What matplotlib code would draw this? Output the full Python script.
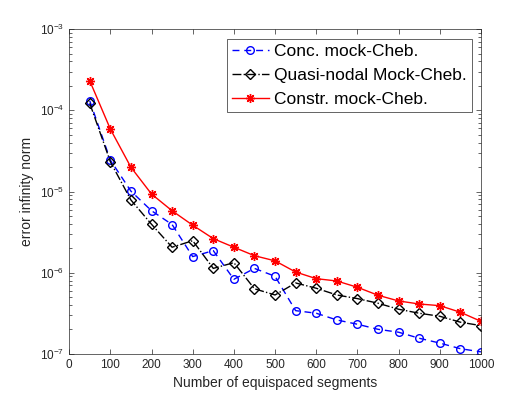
import numpy as np
import matplotlib
matplotlib.use('Agg')
from matplotlib import pyplot as plt
from matplotlib.ticker import LogLocator, NullFormatter, MultipleLocator

plt.rcParams['font.family'] = ['Liberation Sans', 'DejaVu Sans']

segments = np.arange(50, 1001, 50)

conc = [1.31e-4, 2.44e-5, 1.01e-5, 5.80e-6, 3.92e-6, 1.58e-6, 1.87e-6, 8.30e-7, 1.13e-6, 9.04e-7,
        3.41e-7, 3.17e-7, 2.62e-7, 2.32e-7, 2.01e-7, 1.85e-7, 1.56e-7, 1.36e-7, 1.16e-7, 1.06e-7]
quasi = [1.22e-4, 2.33e-5, 7.86e-6, 3.95e-6, 2.06e-6, 2.48e-6, 1.13e-6, 1.33e-6, 6.34e-7, 5.32e-7,
         7.48e-7, 6.44e-7, 5.32e-7, 4.80e-7, 4.21e-7, 3.55e-7, 3.17e-7, 2.91e-7, 2.46e-7, 2.23e-7]
constr = [2.31e-4, 5.88e-5, 1.99e-5, 9.31e-6, 5.79e-6, 3.85e-6, 2.63e-6, 2.06e-6, 1.62e-6, 1.40e-6,
          1.02e-6, 8.45e-7, 7.91e-7, 6.62e-7, 5.28e-7, 4.49e-7, 4.12e-7, 3.93e-7, 3.26e-7, 2.52e-7]

labels = ['Conc. mock-Cheb.', 'Quasi-nodal Mock-Cheb.', 'Constr. mock-Cheb.']

fig = plt.figure(figsize=(5.32, 3.99), dpi=100)
ax = fig.add_axes([0.13, 0.113, 0.774, 0.814])

ax.semilogy(segments, conc, '--o', color='blue', mfc='none', ms=5.5, lw=1, dashes=(5, 3.5),
            label=labels[0])
ax.semilogy(segments, quasi, '-.D', color='black', mfc='none', ms=5, lw=1, label=labels[1])
ax.semilogy(segments, constr, '-', marker=(8, 2, 0), color='red', ms=6.5, mew=1.0, lw=1,
            label=labels[2])

ax.set_xlim(0, 1000)
ax.set_ylim(1e-7, 1e-3)
ax.xaxis.set_major_locator(MultipleLocator(100))
ax.yaxis.set_major_locator(LogLocator(base=10, numticks=10))
ax.yaxis.set_minor_locator(LogLocator(base=10, subs=np.arange(2, 10), numticks=10))
ax.yaxis.set_minor_formatter(NullFormatter())

ax.tick_params(which='both', direction='in', top=True, right=True, colors='0.15',
               labelsize=8.5, width=0.5)
ax.tick_params(which='major', length=3.5)
ax.tick_params(which='minor', length=2)
for s in ax.spines.values():
    s.set_linewidth(0.5)
    s.set_color('0.15')

ax.set_xlabel('Number of equispaced segments', fontsize=10, color='0.15')
ax.set_ylabel('error infinity norm', fontsize=10, color='0.15')

leg = ax.legend(loc='upper right', bbox_to_anchor=(0.978, 0.97), fontsize=12.5,
                fancybox=False, edgecolor='0.15', framealpha=1, borderaxespad=0,
                handlelength=2.1, handletextpad=0.3, labelspacing=0.5, borderpad=0.3)
leg.get_frame().set_linewidth(0.5)

fig.savefig('out.png', dpi=100)
